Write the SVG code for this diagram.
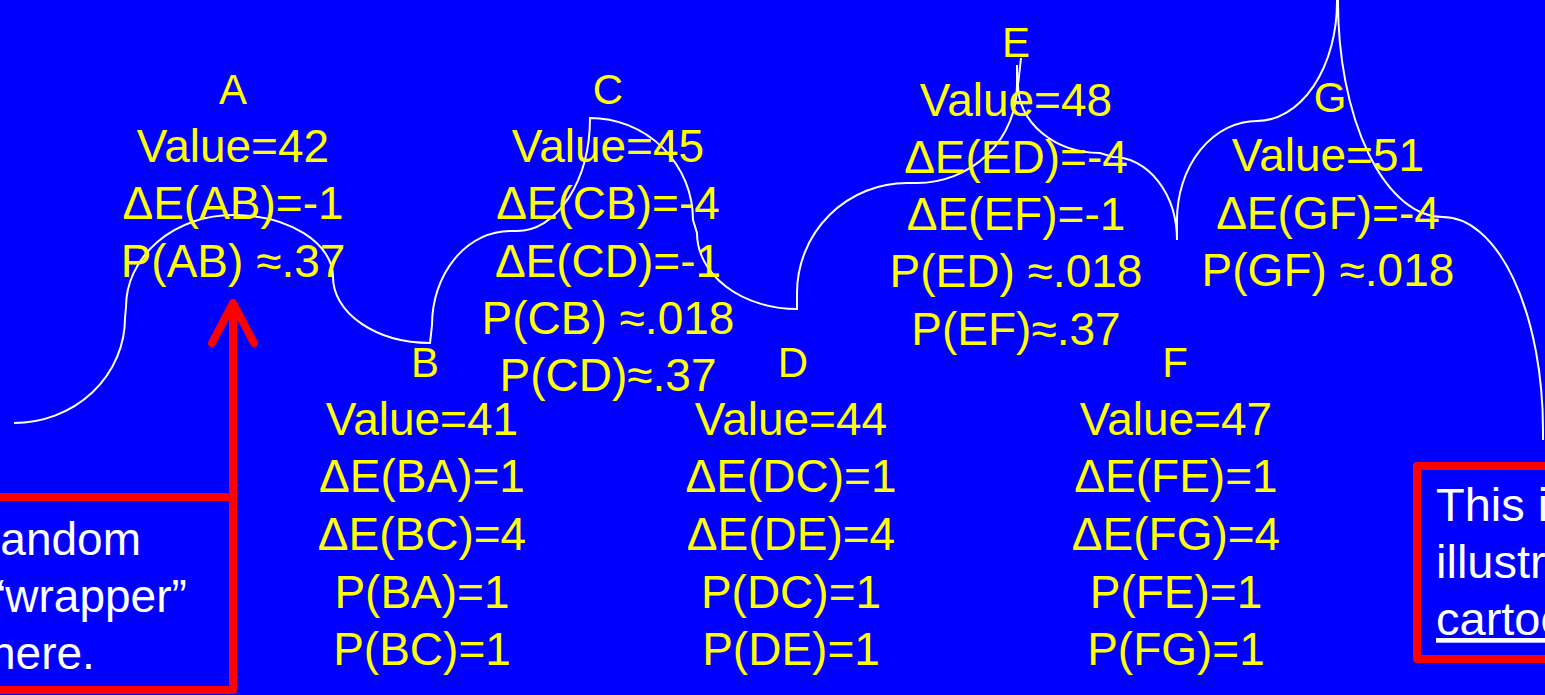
<svg xmlns="http://www.w3.org/2000/svg" width="1545" height="695" viewBox="0 0 1545 695">
<style>
.v{font-family:"Liberation Sans",Arial,sans-serif;font-size:46px;fill:#ffff00;text-anchor:middle}
.l{font-family:"Liberation Sans",Arial,sans-serif;font-size:42px;fill:#ffff00;text-anchor:middle}
.w{font-family:"Liberation Sans",Arial,sans-serif;fill:#ffffff}
.red{fill:none;stroke:#ff0000;stroke-width:8;stroke-linecap:round;stroke-linejoin:round}
</style>
<rect x="0" y="0" width="1545" height="695" fill="#0000ff"/>
<g id="landscape">
<path fill="none" stroke="#ffffff" stroke-width="2" d="M14,423 A111,105 0 0 0 125,318 L126,307 A107,92 0 0 1 233,215 A100,62 0 0 1 333,277 A97,66 0 0 0 430,343 L432,325 A78,94 0 0 1 510,231 L517,231 A73,113 0 0 0 590,118 A103,102 0 0 1 693,220 L697,233 A100,76 0 0 0 797,309 L797,293 A110,110 0 0 1 907,183 L917,183 A100,98 0 0 0 1017,85 L1017,65 M1021,58 L1018,85 A82,68 0 0 0 1100,153 L1113,157 A64,83 0 0 1 1177,240 L1177,220 A80,99 0 0 1 1257,121 A80,119 0 0 0 1337,2 L1337,-2 M1338,0 L1338,2 A105,215 0 0 0 1443,217 A100,213 0 0 1 1543,430 L1543,440"/>
</g>
<g id="nodeA">
<text class="l" x="233" y="104">A</text>
<text class="v" x="233" y="162">Value=42</text>
<text class="v" x="233" y="219">ΔE(AB)=-1</text>
<text class="v" x="233" y="277">P(AB) ≈.37</text>
</g>
<g id="nodeB">
<text class="l" x="425" y="377">B</text>
<text class="v" x="422" y="435">Value=41</text>
<text class="v" x="422" y="492">ΔE(BA)=1</text>
<text class="v" x="422" y="550">ΔE(BC)=4</text>
<text class="v" x="422" y="608">P(BA)=1</text>
<text class="v" x="422" y="665">P(BC)=1</text>
</g>
<g id="nodeC">
<text class="l" x="608" y="104">C</text>
<text class="v" x="608" y="162">Value=45</text>
<text class="v" x="608" y="219">ΔE(CB)=-4</text>
<text class="v" x="608" y="277">ΔE(CD)=-1</text>
<text class="v" x="608" y="334">P(CB) ≈.018</text>
<text class="v" x="608" y="391">P(CD)≈.37</text>
</g>
<g id="nodeD">
<text class="l" x="793" y="377">D</text>
<text class="v" x="791" y="435">Value=44</text>
<text class="v" x="791" y="492">ΔE(DC)=1</text>
<text class="v" x="791" y="550">ΔE(DE)=4</text>
<text class="v" x="791" y="608">P(DC)=1</text>
<text class="v" x="791" y="665">P(DE)=1</text>
</g>
<g id="nodeE">
<text class="l" x="1016" y="57">E</text>
<text class="v" x="1016" y="116">Value=48</text>
<text class="v" x="1016" y="173">ΔE(ED)=-4</text>
<text class="v" x="1016" y="230">ΔE(EF)=-1</text>
<text class="v" x="1016" y="287">P(ED) ≈.018</text>
<text class="v" x="1016" y="345">P(EF)≈.37</text>
</g>
<g id="nodeF">
<text class="l" x="1175" y="377">F</text>
<text class="v" x="1176" y="435">Value=47</text>
<text class="v" x="1176" y="492">ΔE(FE)=1</text>
<text class="v" x="1176" y="550">ΔE(FG)=4</text>
<text class="v" x="1176" y="608">P(FE)=1</text>
<text class="v" x="1176" y="665">P(FG)=1</text>
</g>
<g id="nodeG">
<text class="l" x="1330" y="112">G</text>
<text class="v" x="1328" y="171">Value=51</text>
<text class="v" x="1328" y="229">ΔE(GF)=-4</text>
<text class="v" x="1328" y="286">P(GF) ≈.018</text>
</g>
<g id="noteLeft">
<path class="red" d="M-10,497 L233,497 L233,690 L-10,690"/>
<text class="w" font-size="46" x="-15" y="555">random</text>
<text class="w" font-size="46" x="-10" y="612">“wrapper”</text>
<text class="w" font-size="46" x="-10" y="669">here.</text>
</g>
<g id="noteRight">
<path class="red" d="M1555,466 L1417,466 L1417,659 L1555,659"/>
<text class="w" font-size="47" x="1436" y="521">This is</text>
<text class="w" font-size="47" x="1436" y="578">illustration</text>
<text class="w" font-size="47" x="1436" y="635" text-decoration="underline">cartoon</text>
</g>
<g id="connectors">
<path class="red" d="M233,497 L233,304"/>
<path class="red" d="M212,343 L233,303 L254,343"/>
</g>
</svg>
